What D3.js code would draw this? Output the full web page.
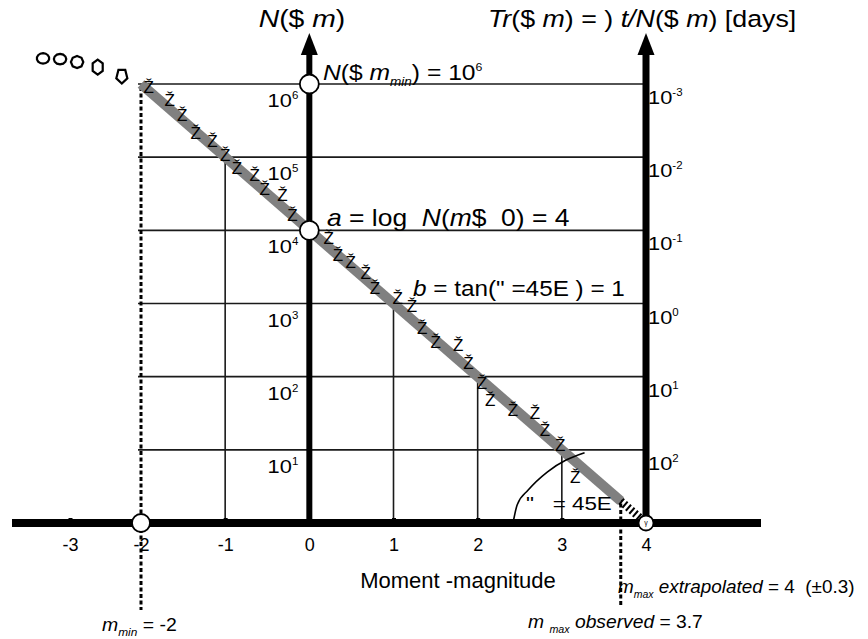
<!DOCTYPE html>
<html>
<head>
<meta charset="utf-8">
<script src="https://cdn.jsdelivr.net/npm/d3@7"></script>
<style>
  html, body { margin: 0; padding: 0; background: #fff; }
  svg { display: block; font-family: "Liberation Sans", Arial, Helvetica, sans-serif; }
</style>
</head>
<body>
<svg id="chart" width="868" height="639"></svg>
<script>
// Gutenberg–Richter relation: log N(>= m) = a - b * m
const magTicks = [-3, -2, -1, 0, 1, 2, 3, 4];
const countExponents = [1, 2, 3, 4, 5, 6];        // left axis, N = 10^k
const periodExponents = [2, 1, 0, -1, -2, -3];    // right axis, Tr = 10^k days (same rows)
const aValue = 4;
const bValue = 1;
const mMin = -2;
const mMaxObserved = 3.7;
const mMaxExtrapolated = 4;
const dropMagnitudes = [-1, 1, 2, 3];

// observed events: magnitude and log10 of cumulative count
const eventMagnitudes = [-1.91, -1.66, -1.51, -1.35, -1.15, -1.00, -0.86, -0.65, -0.53, -0.32,
  -0.20, 0.23, 0.34, 0.49, 0.67, 0.78, 1.05, 1.22, 1.34, 1.50, 1.77, 1.89, 2.05, 2.15, 2.42,
  2.68, 2.80, 2.98, 3.16];
const eventLogCounts = [5.96, 5.78, 5.57, 5.33, 5.22, 5.03, 4.85, 4.75, 4.57, 4.48,
  4.21, 3.89, 3.66, 3.57, 3.42, 3.21, 3.07, 2.96, 2.66, 2.47, 2.43, 2.19, 1.91, 1.68, 1.54,
  1.50, 1.27, 1.07, 0.63];

// incomplete catalogue below m_min
const rolloffMagnitudes = [-3.38, -3.14, -2.90, -2.61, -2.27];
const rolloffLogCounts = [6.35, 6.34, 6.30, 6.23, 6.11];

// slope-angle arc
const arcMagnitudes = [2.42, 2.47, 2.60, 2.83, 3.05, 3.27];
const arcLogCounts = [0.00, 0.25, 0.45, 0.70, 0.86, 0.96];

const svg = d3.select("#chart");
const x = d3.scaleLinear().domain([-3, -2, 4]).range([70, 141, 646]);
const y = d3.scaleLinear().domain([0, 6]).range([523, 84]);
const law = m => aValue - bValue * m;
const INK = "#000";

// rich text helper: parts = [{t, i (italic), sub, sup}]
function richText(parent, px, py, parts, o) {
  const size = o.size, sx = o.sx || 1;
  const t = parent.append("text")
    .attr("transform", `translate(${px},${py}) scale(${sx},1)`)
    .attr("font-size", size)
    .attr("text-anchor", o.anchor || "start")
    .attr("fill", INK)
    .style("white-space", "pre");
  let shift = 0;
  parts.forEach(p => {
    const s = t.append("tspan").text(p.t);
    let target = 0;
    if (p.sub) { target = size * 0.28; s.attr("font-size", p.size || size * 0.55); }
    if (p.sup) { target = -size * 0.42; s.attr("font-size", p.size || size * 0.5); }
    if (target - shift !== 0) s.attr("dy", target - shift);
    shift = target;
    if (p.i) s.attr("font-style", "italic");
  });
  return t;
}

// horizontal grid rows
svg.append("g").selectAll("line").data(countExponents).join("line")
  .attr("x1", x(mMin) - 3).attr("x2", x(mMaxExtrapolated))
  .attr("y1", d => y(d)).attr("y2", d => y(d))
  .attr("stroke", "#1a1a1a").attr("stroke-width", 1.6);

// drop lines from the regression line to the axis
svg.append("g").selectAll("line").data(dropMagnitudes).join("line")
  .attr("x1", d => x(d)).attr("x2", d => x(d))
  .attr("y1", y(0)).attr("y2", d => y(law(d)))
  .attr("stroke", "#1a1a1a").attr("stroke-width", 1.6);

// dotted leaders for m_min and m_max observed
const dotted = svg.append("g").attr("stroke", INK).attr("stroke-width", 3)
  .attr("stroke-dasharray", "4,2.5");
dotted.append("line").attr("x1", x(mMin)).attr("x2", x(mMin))
  .attr("y1", y(law(mMin)) + 3).attr("y2", 610);
dotted.append("line").attr("x1", x(mMaxObserved)).attr("x2", x(mMaxObserved))
  .attr("y1", y(law(mMaxObserved)) - 4).attr("y2", 607);

// fitted line (observed range) and extrapolated part
const linePath = d3.line().x(d => x(d)).y(d => y(law(d)));
svg.append("path").attr("d", linePath([mMin, mMaxObserved]))
  .attr("fill", "none").attr("stroke", "#808080").attr("stroke-width", 10);
svg.append("path").attr("d", linePath([mMaxObserved, mMaxExtrapolated]))
  .attr("fill", "none").attr("stroke", INK).attr("stroke-width", 8)
  .attr("stroke-dasharray", "2,2.6");

// slope angle arc
svg.append("path")
  .attr("d", d3.line().x(d => x(d[0])).y(d => y(d[1])).curve(d3.curveMonotoneX)(
    arcMagnitudes.map((m, i) => [m, arcLogCounts[i]])))
  .attr("fill", "none").attr("stroke", INK).attr("stroke-width", 1.6);

// event markers
svg.append("g").selectAll("text").data(eventMagnitudes).join("text")
  .attr("x", d => x(d)).attr("y", (d, i) => y(eventLogCounts[i]) + 6)
  .attr("text-anchor", "middle").attr("font-size", 17).attr("fill", INK)
  .text("Ž");

// incomplete-catalogue markers
const rollShapes = [14, 12, 8, 6, 5];
svg.append("g").selectAll("path").data(rolloffMagnitudes).join("path")
  .attr("d", (d, i) => {
    const n = rollShapes[i];
    const rx = i < 3 ? 6.2 : 5.8, ry = i < 2 ? 5.2 : (i === 2 ? 6 : 7.5);
    const pts = d3.range(n).map(k => {
      const ang = -Math.PI / 2 + (k / n) * 2 * Math.PI + (i === 4 ? Math.PI / 5 : 0);
      return [x(d) + rx * Math.cos(ang), y(rolloffLogCounts[i]) + ry * Math.sin(ang)];
    });
    return "M" + pts.join("L") + "Z";
  })
  .attr("fill", "#fff").attr("stroke", INK).attr("stroke-width", 2.2);

// axes: magnitude (horizontal), N (left vertical), Tr (right vertical)
const axisG = svg.append("g");
axisG.append("line").attr("x1", 12).attr("x2", 761)
  .attr("y1", y(0)).attr("y2", y(0)).attr("stroke", INK).attr("stroke-width", 8);
[[x(0), 6], [x(mMaxExtrapolated), 7]].forEach(([ax, w]) => {
  axisG.append("line").attr("x1", ax).attr("x2", ax)
    .attr("y1", y(0)).attr("y2", 52).attr("stroke", INK).attr("stroke-width", w);
  axisG.append("path")
    .attr("d", `M${ax},33L${ax + 8.5},55L${ax - 8.5},55Z`).attr("fill", INK);
});

const xAxis = d3.axisBottom(x).tickValues(magTicks).tickFormat(d => String(d))
  .tickSizeInner(-5).tickSizeOuter(0).tickPadding(15);
svg.append("g").attr("transform", `translate(0,${y(0)})`).call(xAxis)
  .attr("font-family", null).attr("font-size", 18)
  .call(g => g.select(".domain").remove())
  .call(g => g.selectAll(".tick line").attr("stroke", INK).attr("stroke-width", 4))
  .call(g => g.selectAll(".tick text").attr("fill", INK));

// left (count) labels
countExponents.forEach(k => {
  richText(svg, x(0) - 11, y(k) + 23, [{ t: "10" }, { t: String(k), sup: true, size: 10 }],
    { size: 19, sx: 1.15, anchor: "end" });
});
// right (recurrence) labels
countExponents.forEach((k, i) => {
  richText(svg, x(mMaxExtrapolated) + 2, y(k) + 20,
    [{ t: "10" }, { t: String(periodExponents[i]), sup: true, size: 10 }],
    { size: 19, sx: 1.15 });
});

// reference points
const pts = [[0, 6, 9.5], [0, aValue, 9.5], [mMin, 0, 9], [mMaxExtrapolated, 0, 7.5]];
svg.append("g").selectAll("circle").data(pts).join("circle")
  .attr("cx", d => x(d[0])).attr("cy", d => y(d[1])).attr("r", d => d[2])
  .attr("fill", "#fff").attr("stroke", INK).attr("stroke-width", 1.8);
svg.append("text").attr("x", x(mMaxExtrapolated)).attr("y", y(0) + 2)
  .attr("text-anchor", "middle").attr("font-size", 7).text("γ");

// titles
richText(svg, 302, 27, [{ t: "N", i: true }, { t: "($ " }, { t: "m", i: true }, { t: ")" }],
  { size: 24, sx: 1.18, anchor: "middle" });
richText(svg, 488, 27, [
  { t: "Tr", i: true }, { t: "($ " }, { t: "m", i: true }, { t: ") = ) " },
  { t: "t/N", i: true }, { t: "($ " }, { t: "m", i: true }, { t: ") [days]" }],
  { size: 23.5, sx: 1.14 });

// annotations on the plot
richText(svg, 323, 80, [
  { t: "N", i: true }, { t: "($ " }, { t: "m", i: true }, { t: "min", i: true, sub: true },
  { t: ") = 10" }, { t: "6", sup: true }],
  { size: 22, sx: 1.12 });
richText(svg, 327, 226, [
  { t: "a", i: true }, { t: " = log  " }, { t: "N", i: true }, { t: "(" },
  { t: "m", i: true }, { t: "$  0) = 4" }],
  { size: 23, sx: 1.15 });
richText(svg, 413, 296, [
  { t: "b", i: true }, { t: " = tan(\" =45E ) = 1" }],
  { size: 21.5, sx: 1.13 });
richText(svg, 526, 510, [{ t: "\"   = 45E" }], { size: 19, sx: 1.18 });

// axis title and magnitude notes
richText(svg, 458, 588, [{ t: "Moment -magnitude" }], { size: 22, anchor: "middle" });
richText(svg, 102, 631, [
  { t: "m", i: true }, { t: "min", i: true, sub: true, size: 11 }, { t: " = -2" }],
  { size: 18, sx: 1.08 });
richText(svg, 528, 628, [
  { t: "m ", i: true }, { t: "max", i: true, sub: true, size: 10 },
  { t: " observed", i: true }, { t: " = 3.7" }],
  { size: 18, sx: 1.07 });
richText(svg, 618, 593, [
  { t: "m", i: true }, { t: "max", i: true, sub: true, size: 10 },
  { t: " extrapolated", i: true }, { t: " = 4  (±0.3)" }],
  { size: 18, sx: 1.05 });
</script>
</body>
</html>
